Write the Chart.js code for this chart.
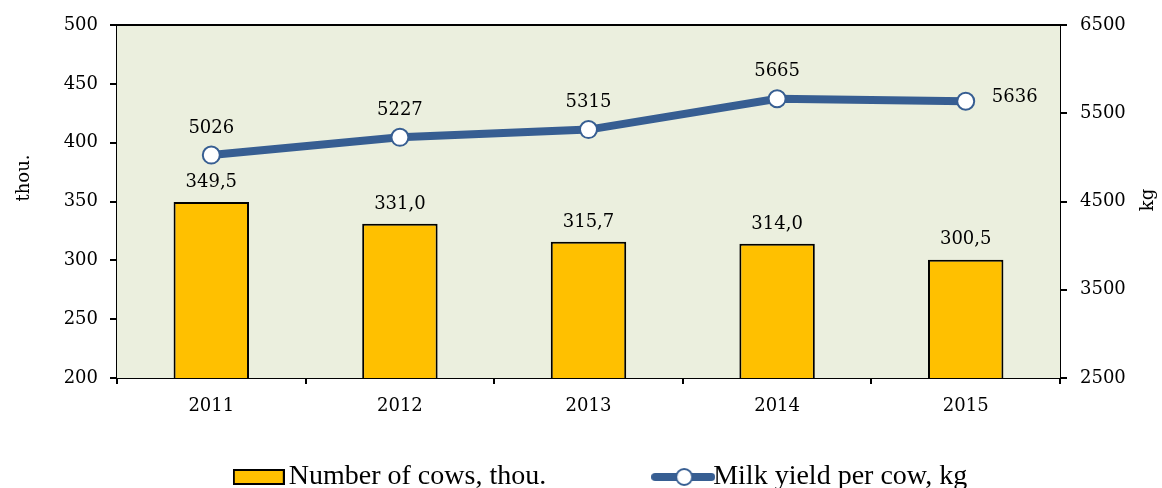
<!DOCTYPE html>
<html>
<head>
<meta charset="utf-8">
<script src="https://cdn.jsdelivr.net/npm/chart.js@4/dist/chart.umd.min.js"></script>
<style>
html,body{margin:0;padding:0;background:#fff;}
#wrap{width:1162px;height:488px;position:relative;}
</style>
</head>
<body>
<div id="wrap"><canvas id="c" width="1162" height="488"></canvas></div>
<script>
const years = ['2011', '2012', '2013', '2014', '2015'];
const cows = [349.5, 331.0, 315.7, 314.0, 300.5];
const milkYield = [5026, 5227, 5315, 5665, 5636];
const leftTicks = [200, 250, 300, 350, 400, 450, 500];
const rightTicks = [2500, 3500, 4500, 5500, 6500];
const cowsLabel = 'Number of cows, thou.';
const milkLabel = 'Milk yield per cow, kg';
const leftTitle = 'thou.';
const rightTitle = 'kg';

const SERIF = '"DejaVu Serif", serif';
const BAR_COLOR = '#FFC000';
const LINE_COLOR = '#375E92';
const PLOT_BG = '#EBEFDE';

function makeBarIcon() {
  const c = document.createElement('canvas');
  c.width = 52; c.height = 16;
  const g = c.getContext('2d');
  g.fillStyle = BAR_COLOR;
  g.fillRect(1, 1, 50, 14);
  g.strokeStyle = '#000';
  g.lineWidth = 2;
  g.strokeRect(1, 1, 50, 14);
  return c;
}
function makeLineIcon() {
  const c = document.createElement('canvas');
  c.width = 64; c.height = 22;
  const g = c.getContext('2d');
  g.strokeStyle = LINE_COLOR;
  g.lineWidth = 8;
  g.lineCap = 'round';
  g.beginPath(); g.moveTo(4, 11); g.lineTo(60, 11); g.stroke();
  g.fillStyle = '#fff';
  g.lineWidth = 2;
  g.beginPath(); g.arc(33, 11, 8, 0, Math.PI * 2); g.fill(); g.stroke();
  return c;
}

const fmtComma = v => v.toFixed(1).replace('.', ',');

const plotFrame = {
  id: 'plotFrame',
  beforeDatasetsDraw(chart) {
    const {ctx, chartArea: a} = chart;
    ctx.save();
    ctx.fillStyle = PLOT_BG;
    ctx.fillRect(a.left, a.top, a.right - a.left, a.bottom - a.top);
    ctx.restore();
  },
  afterDatasetsDraw(chart) {
    const {ctx, chartArea: a} = chart;
    ctx.save();
    ctx.strokeStyle = '#000';
    ctx.lineWidth = 2;
    ctx.beginPath();
    ctx.moveTo(a.left, a.top); ctx.lineTo(a.right, a.top);
    ctx.stroke();
    ctx.restore();
  }
};

const valueLabels = {
  id: 'valueLabels',
  afterDatasetsDraw(chart) {
    const {ctx} = chart;
    ctx.save();
    ctx.font = '18px ' + SERIF;
    ctx.fillStyle = '#000';
    ctx.textAlign = 'center';
    ctx.textBaseline = 'middle';
    const barMeta = chart.getDatasetMeta(0);
    barMeta.data.forEach((el, i) => {
      ctx.fillText(fmtComma(cows[i]), el.x, el.y - 20);
    });
    const lineMeta = chart.getDatasetMeta(1);
    lineMeta.data.forEach((el, i) => {
      if (i === lineMeta.data.length - 1) {
        ctx.fillText(String(milkYield[i]), el.x + 49, el.y - 4);
      } else {
        ctx.fillText(String(milkYield[i]), el.x, el.y - 27);
      }
    });
    ctx.save();
    ctx.translate(24, 178);
    ctx.rotate(-Math.PI / 2);
    ctx.fillText(leftTitle, 0, 0);
    ctx.restore();
    ctx.save();
    ctx.translate(1148, 200);
    ctx.rotate(-Math.PI / 2);
    ctx.fillText(rightTitle, 0, 0);
    ctx.restore();
    ctx.restore();
  }
};

const barIcon = makeBarIcon();
const lineIcon = makeLineIcon();
const LEG_PAD = 37;

new Chart(document.getElementById('c'), {
  type: 'bar',
  data: {
    labels: years,
    datasets: [
      {
        type: 'bar',
        label: cowsLabel,
        data: cows,
        yAxisID: 'y',
        backgroundColor: BAR_COLOR,
        borderColor: '#000',
        borderWidth: 2,
        barPercentage: 0.4,
        categoryPercentage: 1.0,
        order: 1
      },
      {
        type: 'line',
        label: milkLabel,
        data: milkYield,
        yAxisID: 'y1',
        borderColor: LINE_COLOR,
        borderWidth: 8,
        pointRadius: 8.5,
        pointBorderWidth: 2,
        pointBackgroundColor: '#fff',
        pointBorderColor: LINE_COLOR,
        tension: 0,
        order: 0
      }
    ]
  },
  options: {
    responsive: false,
    animation: false,
    devicePixelRatio: 1,
    layout: { padding: { top: 25, left: 0, right: -48, bottom: -13 } },
    plugins: {
      tooltip: { enabled: false },
      legend: {
        position: 'bottom',
        labels: {
          usePointStyle: true,
          pointStyleWidth: 32,
          padding: LEG_PAD,
          color: '#000',
          font: { family: '"Liberation Serif", serif', size: 28 },
          sort: (a, b) => a.datasetIndex - b.datasetIndex,
          generateLabels(chart) {
            return chart.data.datasets.map((ds, i) => ({
              text: i === 0 ? ds.label + '            ' : ds.label,
              pointStyle: i === 0 ? barIcon : lineIcon,
              fillStyle: 'transparent',
              strokeStyle: 'transparent',
              lineWidth: 0,
              hidden: false,
              datasetIndex: i,
              fontColor: '#000'
            }));
          }
        }
      }
    },
    scales: {
      x: {
        offset: true,
        grid: { display: true, offset: true, drawOnChartArea: false, drawTicks: true, tickLength: 6, color: '#000', lineWidth: 2 },
        border: { display: true, color: '#000', width: 2 },
        ticks: { color: '#000', font: { family: SERIF, size: 18 }, padding: 12, maxRotation: 0, autoSkip: false },
        afterFit(s) { s.height = 85 - LEG_PAD; }
      },
      y: {
        position: 'left',
        min: 200, max: 500,
        afterBuildTicks(s) { s.ticks = leftTicks.map(v => ({ value: v })); },
        grid: { display: true, drawOnChartArea: false, drawTicks: true, tickLength: 7, color: '#000', lineWidth: 2 },
        border: { display: true, color: '#000', width: 2 },
        ticks: { color: '#000', font: { family: SERIF, size: 18 }, padding: 12, callback: v => String(v) },
        afterFit(s) { s.width = 117; }
      },
      y1: {
        position: 'right',
        min: 2500, max: 6500,
        afterBuildTicks(s) { s.ticks = rightTicks.map(v => ({ value: v })); },
        grid: { display: true, drawOnChartArea: false, drawTicks: true, tickLength: 7, color: '#000', lineWidth: 2 },
        border: { display: true, color: '#000', width: 2 },
        ticks: { color: '#000', font: { family: SERIF, size: 18 }, padding: 13, callback: v => String(v) },
        afterFit(s) { s.width = 150; }
      }
    }
  },
  plugins: [plotFrame, valueLabels]
});
</script>
</body>
</html>
